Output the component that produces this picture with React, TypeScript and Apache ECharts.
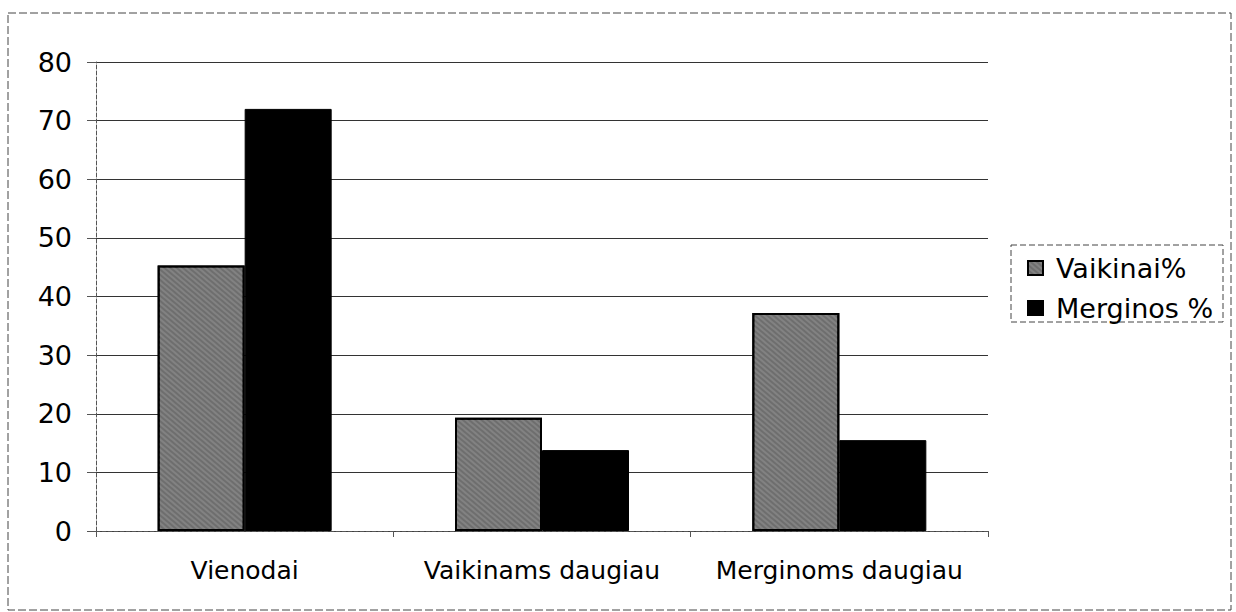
import React, { useEffect, useRef } from "react";
import * as echarts from "echarts";

const categories = ["Vienodai", "Vaikinams daugiau", "Merginoms daugiau"];
const vaikinai = [45.3, 19.3, 37.2];
const merginos = [72, 13.8, 15.5];
const seriesNames = ["Vaikinai%", "Merginos %"];

const FONT = "DejaVu Sans, Liberation Sans, Arial, sans-serif";

export default function App() {
  const ref = useRef<HTMLDivElement>(null);
  useEffect(() => {
    const chart = echarts.init(ref.current!, null, { renderer: "svg" });
    chart.setOption({
      animation: false,
      backgroundColor: "#ffffff",
      textStyle: { fontFamily: FONT },
      grid: { left: 96, right: 248, top: 62, bottom: 81 },
      legend: {
        orient: "vertical",
        left: 1022,
        top: 249,
        itemWidth: 15,
        itemHeight: 14,
        itemGap: 12,
        icon: "rect",
        textStyle: {
          fontSize: 27,
          lineHeight: 28,
          color: "#000",
          fontFamily: FONT,
          padding: [0, 0, 0, 8],
        },
        data: seriesNames,
      },
      xAxis: {
        type: "category",
        data: categories,
        axisLine: { lineStyle: { color: "#555", type: "dashed", width: 1 } },
        axisTick: { show: true, length: 6, lineStyle: { color: "#555" } },
        axisLabel: { fontSize: 25, color: "#000", margin: 27, interval: 0, fontFamily: FONT },
      },
      yAxis: {
        type: "value",
        min: 0,
        max: 80,
        interval: 10,
        axisLine: { show: true, lineStyle: { color: "#555", type: "dashed", width: 1 } },
        axisTick: { show: true, length: 9, lineStyle: { color: "#555" } },
        axisLabel: { fontSize: 27, color: "#000", margin: 24, fontFamily: FONT },
        splitLine: { lineStyle: { color: "#333", width: 1 } },
      },
      series: [
        {
          name: seriesNames[0],
          type: "bar",
          data: vaikinai,
          barWidth: 87,
          barGap: "0%",
          itemStyle: {
            color: "#6e6e6e",
            borderColor: "#000",
            borderWidth: 2,
            decal: {
              symbol: "rect",
              symbolSize: 0.6,
              dashArrayX: [1, 0],
              dashArrayY: [2, 2],
              color: "rgba(220,220,220,0.6)",
              rotation: 0.7,
            },
          },
        },
        {
          name: seriesNames[1],
          type: "bar",
          data: merginos,
          barWidth: 87,
          itemStyle: { color: "#000", borderColor: "#000", borderWidth: 1 },
        },
      ],
      aria: { enabled: false, decal: { show: true } },
      graphic: [
        {
          type: "rect",
          shape: { x: 8, y: 13, width: 1223, height: 597 },
          style: { fill: "none", stroke: "#444", lineWidth: 1, lineDash: [8, 3] },
          silent: true,
        },
        {
          type: "rect",
          shape: { x: 1011, y: 245, width: 212, height: 77 },
          style: { fill: "none", stroke: "#444", lineWidth: 1, lineDash: [6, 3] },
          silent: true,
        },
      ],
    });
    return () => chart.dispose();
  }, []);
  return (
    <div
      ref={ref}
      style={{ position: "fixed", left: 0, top: 0, width: 1236, height: 612 }}
    />
  );
}
